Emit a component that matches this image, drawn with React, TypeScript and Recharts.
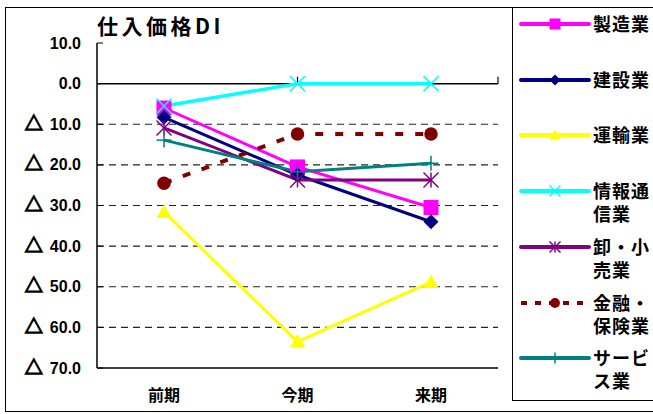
import { LineChart, Line, XAxis, YAxis, ReferenceLine } from "recharts";

// 期間
const periods = ["前期", "今期", "来期"];

// 業種別 仕入価格DI
const manufacturing = [-6.0, -20.5, -30.5];
const construction = [-8.3, -22.5, -34.0];
const transport = [-31.6, -63.5, -48.8];
const infoComm = [-5.5, 0.0, 0.0];
const wholesaleRetail = [-10.9, -23.7, -23.7];
const financeInsurance = [-24.5, -12.4, -12.4];
const services = [-13.9, -21.7, -19.6];

const yTicks = [10, 0, -10, -20, -30, -40, -50, -60, -70];
const gridValues = [-10, -20, -30, -40, -50, -60];
const categoryEdges = [1, 2, 3];

type Shape = "square" | "diamond" | "triangle" | "cross" | "star" | "circle" | "plus";

const series: {
  key: string;
  name: string;
  color: string;
  shape: Shape;
  values: number[];
  dashed?: boolean;
  width: number;
}[] = [
  { key: "manufacturing", name: "製造業", color: "#FF00FF", shape: "square", values: manufacturing, width: 3 },
  { key: "construction", name: "建設業", color: "#000080", shape: "diamond", values: construction, width: 3 },
  { key: "transport", name: "運輸業", color: "#FFFF00", shape: "triangle", values: transport, width: 3 },
  { key: "infoComm", name: "情報通信業", color: "#00FFFF", shape: "cross", values: infoComm, width: 3.5 },
  { key: "wholesaleRetail", name: "卸・小売業", color: "#800080", shape: "star", values: wholesaleRetail, width: 3 },
  { key: "financeInsurance", name: "金融・保険業", color: "#800000", shape: "circle", values: financeInsurance, dashed: true, width: 4 },
  { key: "services", name: "サービス業", color: "#008080", shape: "plus", values: services, width: 3 },
];

const chartData = periods.map((period, i) => {
  const row: Record<string, string | number> = { period };
  series.forEach((s) => {
    row[s.key] = s.values[i];
  });
  return row;
});

const LATIN = "'Liberation Sans', Arial, sans-serif";
const CJK = "'Noto Sans CJK JP', sans-serif";

function Marker({ cx, cy, shape, color, size }: { cx: number; cy: number; shape: Shape; color: string; size: number }) {
  const h = size / 2;
  switch (shape) {
    case "square":
      return <rect x={cx - h} y={cy - h} width={size} height={size} fill={color} />;
    case "diamond":
      return <polygon points={`${cx},${cy - h} ${cx + h},${cy} ${cx},${cy + h} ${cx - h},${cy}`} fill={color} />;
    case "triangle":
      return <polygon points={`${cx},${cy - h} ${cx + h},${cy + h * 0.8} ${cx - h},${cy + h * 0.8}`} fill={color} />;
    case "circle":
      return <circle cx={cx} cy={cy} r={h * 0.9} fill={color} />;
    case "cross":
      return (
        <g stroke={color} strokeWidth={1.5}>
          <line x1={cx - h} y1={cy - h} x2={cx + h} y2={cy + h} />
          <line x1={cx - h} y1={cy + h} x2={cx + h} y2={cy - h} />
        </g>
      );
    case "star":
      return (
        <g stroke={color} strokeWidth={1.5}>
          <line x1={cx - h} y1={cy - h} x2={cx + h} y2={cy + h} />
          <line x1={cx - h} y1={cy + h} x2={cx + h} y2={cy - h} />
          <line x1={cx} y1={cy - h} x2={cx} y2={cy + h} />
        </g>
      );
    case "plus":
      return (
        <g stroke={color} strokeWidth={1.5}>
          <line x1={cx - h} y1={cy} x2={cx + h} y2={cy} />
          <line x1={cx} y1={cy - h} x2={cx} y2={cy + h} />
        </g>
      );
  }
}

// マイナス値は「△」表記
function YTick({ x, y, payload }: any) {
  const v: number = payload.value;
  return (
    <text x={x} y={y} dy="0.35em" textAnchor="end" fill="#000" fontSize={16} fontWeight={700} fontFamily={LATIN}>
      {v < 0 && (
        <tspan fontFamily={CJK} fontSize={18} stroke="#000" strokeWidth={1.3}>
          △
        </tspan>
      )}
      <tspan dx={v < 0 ? 7 : 0}>{Math.abs(v).toFixed(1)}</tspan>
    </text>
  );
}

function LegendIcon({ s }: { s: (typeof series)[number] }) {
  return (
    <svg width={72} height={16} style={{ display: "block" }}>
      <line
        x1={2}
        y1={8}
        x2={70}
        y2={8}
        stroke={s.color}
        strokeWidth={4}
        strokeLinecap={s.dashed ? "butt" : "round"}
        strokeDasharray={s.dashed ? "6 8" : undefined}
      />
      <Marker cx={36} cy={8} shape={s.shape} color={s.color} size={11} />
    </svg>
  );
}

export default function App() {
  return (
    <div style={{ position: "absolute", left: 0, top: 0, width: 653, height: 414, overflow: "hidden", background: "#fff", fontFamily: LATIN }}>
      {/* 外枠 */}
      <div style={{ position: "absolute", left: 5, top: 7, width: 660, height: 403, border: "1px solid #000" }} />

      <div style={{ position: "absolute", left: 97, top: 15, fontSize: 21, fontWeight: 700, letterSpacing: 3.5, lineHeight: 1, fontFamily: CJK }}>
        仕入価格DI
      </div>

      <div style={{ position: "absolute", left: 0, top: 0 }}>
        <LineChart width={653} height={414} data={chartData} margin={{ top: 43, right: 155, bottom: 16, left: 5 }}>
          <XAxis
            dataKey="period"
            padding={{ left: 67, right: 67 }}
            height={30}
            tickLine={false}
            tickSize={0}
            tickMargin={22}
            axisLine={{ stroke: "#000", strokeWidth: 1.5 }}
            tick={{ fill: "#000", fontSize: 16, fontWeight: 700, fontFamily: CJK }}
          />
          <XAxis xAxisId="top" dataKey="period" orientation="top" height={0} tick={false} tickLine={false} axisLine={{ stroke: "#999" }} />
          <XAxis xAxisId="edge" type="number" domain={[0, 3]} hide />
          <YAxis
            domain={[-70, 10]}
            ticks={yTicks}
            interval={0}
            width={92}
            tickSize={-6}
            tickMargin={22}
            axisLine={{ stroke: "#000", strokeWidth: 1.5 }}
            tickLine={{ stroke: "#000" }}
            tick={<YTick />}
          />
          <YAxis yAxisId="right" orientation="right" domain={[-70, 10]} width={0} tick={false} tickLine={false} axisLine={{ stroke: "#999" }} />

          {gridValues.map((v) => (
            <ReferenceLine key={v} y={v} stroke="#222" strokeWidth={1.2} strokeDasharray="7 5" />
          ))}
          <ReferenceLine y={0} stroke="#000" strokeWidth={1.5} />
          {categoryEdges.map((x) => (
            <ReferenceLine
              key={x}
              xAxisId="edge"
              segment={[
                { x, y: 0 },
                { x, y: 1.7 },
              ]}
              stroke="#000"
              strokeWidth={1.2}
            />
          ))}

          {series.map((s) => (
            <Line
              key={s.key}
              dataKey={s.key}
              name={s.name}
              type="linear"
              stroke={s.color}
              strokeWidth={s.width}
              strokeDasharray={s.dashed ? "8 12" : undefined}
              isAnimationActive={false}
              dot={(props: any) => (
                <Marker key={`${s.key}-${props.index}`} cx={props.cx} cy={props.cy} shape={s.shape} color={s.color} size={15} />
              )}
              activeDot={false}
            />
          ))}
        </LineChart>
      </div>

      {/* 凡例 */}
      <div style={{ position: "absolute", left: 512, top: 7, width: 160, height: 392, borderLeft: "1px solid #000", borderBottom: "1px solid #000", borderTop: "1px solid #000" }}>
        {series.map((s, i) => (
          <div key={s.key} style={{ position: "absolute", left: 6, top: 4 + i * 55.7, display: "flex", alignItems: "flex-start" }}>
            <div style={{ marginTop: 4 }}>
              <LegendIcon s={s} />
            </div>
            <div
              style={{
                width: 60,
                marginLeft: 2,
                fontSize: 18,
                fontWeight: 700,
                lineHeight: "23px",
                letterSpacing: 1,
                fontFamily: CJK,
                wordBreak: "break-all",
              }}
            >
              {s.name}
            </div>
          </div>
        ))}
      </div>
    </div>
  );
}
